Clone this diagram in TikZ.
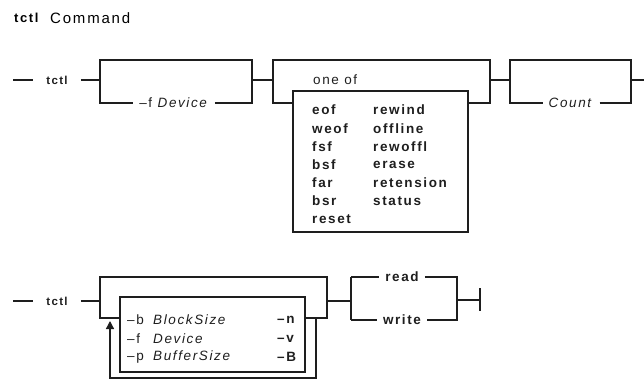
\documentclass[tikz,border=0pt]{standalone}
\usepackage{fontspec}
\setmainfont{Liberation Sans}[LetterSpace=12]
\usepackage{tikz}
\usetikzlibrary{arrows.meta}
\definecolor{RailInk}{HTML}{1E1E1E}
\newcommand{\railfont}{\fontsize{13.5}{16}\selectfont}
\tikzset{
  rail/.style={draw=RailInk,line width=1.3pt},
  mainrail/.style={draw=RailInk,line width=2.6pt,line join=miter},
  kw/.style={inner sep=0pt,anchor=west,font=\bfseries\railfont,text=RailInk},
  flag/.style={inner sep=0pt,anchor=west,font=\railfont,text=RailInk},
  onrail/.style={inner ysep=3pt,inner xsep=6pt,font=\railfont,text=RailInk},
  cmdname/.style={inner ysep=3pt,inner xsep=13pt,font=\bfseries\fontsize{11.5}{14}\selectfont,text=RailInk},
  choicebox/.style={draw=RailInk,line width=1.3pt}
}
\newcommand{\flagarg}[2]{\makebox[26pt][l]{#1}\textit{#2}}

\begin{document}
\begin{tikzpicture}[x=1pt,y=-1pt]
  \useasboundingbox (0,0) rectangle (644,382);
  \node[anchor=west,inner sep=0pt,font=\bfseries\fontsize{13}{15}\selectfont] (titlecmd) at (14,18) {tctl};
  \node[anchor=west,inner sep=0pt,font=\fontsize{15}{17}\selectfont] (titleword) at (50,18) {Command};

  % first form: tctl [-f Device] {subcommand} [Count]
  \coordinate (s1) at (13,80);
  \node[cmdname] (tctl1) at (57,80) {tctl};
  \draw[rail] (s1) -- (tctl1.west);
  \draw[rail] (tctl1.east) -- (100,80);

  \node[onrail] (dev) at (174,103) {–f \textit{Device}};
  \draw[mainrail] (100,80) -- (100,60) -- (252,60) -- (252,80);
  \draw[rail] (100,80) -- (100,103) -- (dev.west);
  \draw[rail] (dev.east) -- (252,103) -- (252,80) -- (273,80);

  \node[onrail,anchor=west,inner sep=0pt] (oneof) at (313,80) {one of};
  \draw[mainrail] (273,80) -- (273,60) -- (490,60) -- (490,80);
  \draw[choicebox] (293,91) rectangle (468,232);
  \coordinate (cbl) at (293,103);
  \coordinate (cbr) at (468,103);
  \draw[rail] (273,80) -- (273,103) -- (cbl);
  \draw[rail] (cbr) -- (490,103) -- (490,80) -- (510,80);
  \foreach \w [count=\i from 0] in {eof,weof,fsf,bsf,far,bsr,reset}
    \node[kw] (cl\i) at (312,110+18.2*\i) {\w};
  \foreach \w [count=\i from 0] in {rewind,offline,rewoffl,erase,retension,status}
    \node[kw] (cr\i) at (373,110+18.2*\i) {\w};

  \node[onrail] (count) at (571,103) {\textit{Count}};
  \draw[mainrail] (510,80) -- (510,60) -- (631,60) -- (631,80);
  \draw[rail] (510,80) -- (510,103) -- (count.west);
  \draw[rail] (count.east) -- (631,103) -- (631,80) -- (644,80);

  % second form: tctl [flags ...] {read|write}
  \coordinate (s2) at (13,301);
  \node[cmdname] (tctl2) at (57,301) {tctl};
  \draw[rail] (s2) -- (tctl2.west);
  \draw[rail] (tctl2.east) -- (100,301);

  \draw[mainrail] (100,301) -- (100,277) -- (327,277) -- (327,301);
  \draw[choicebox] (120,297) rectangle (305,372);
  \coordinate (fbl) at (120,318);
  \coordinate (fbr) at (305,318);
  \draw[rail] (100,301) -- (100,318) -- (fbl);
  \draw[rail] (fbr) -- (327,318) -- (327,301) -- (351,301);
  \draw[rail,-{Triangle[length=8pt,width=8pt]}] (316,318) -- (316,378) -- (110,378) -- (110,321);

  \node[flag] (fb) at (127,320) {\flagarg{–b}{BlockSize}};
  \node[flag] (ff) at (127,338.5) {\flagarg{–f}{Device}};
  \node[flag] (fp) at (127,357) {\flagarg{–p}{BufferSize}};
  \node[kw] (fn) at (277,320) {–n};
  \node[kw] (fv) at (277,338.5) {–v};
  \node[kw] (fB) at (277,357) {–B};

  \node[onrail,font=\bfseries\railfont] (rd) at (402,277) {read};
  \node[onrail,font=\bfseries\railfont] (wr) at (402,320) {write};
  \draw[rail] (351,277) -- (351,320);
  \draw[rail] (351,277) -- (rd.west);
  \draw[rail] (351,320) -- (wr.west);
  \draw[rail] (rd.east) -- (457,277) -- (457,320) -- (wr.east);
  \coordinate (fin) at (480,300);
  \draw[rail] (457,300) -- (fin);
  \draw[rail] (480,288) -- (480,311);
\end{tikzpicture}
\end{document}
